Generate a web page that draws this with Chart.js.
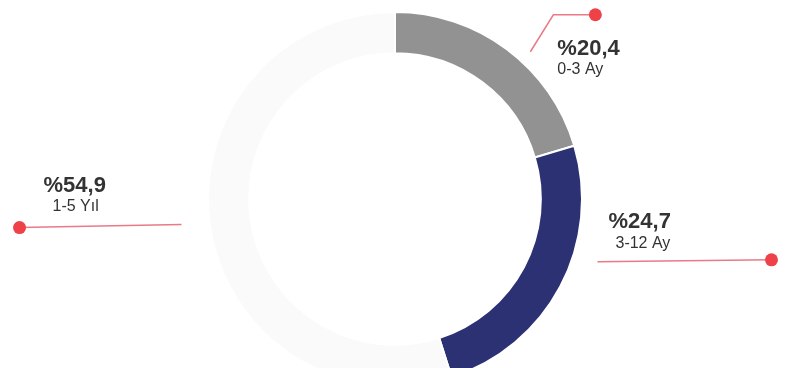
<!DOCTYPE html>
<html>
<head>
<meta charset="utf-8">
<style>
  html, body { margin: 0; padding: 0; background: #fff; overflow: hidden; }
  .wrap { width: 790px; height: 400px; position: relative; }
</style>
<script src="https://cdn.jsdelivr.net/npm/chart.js@4.4.0/dist/chart.umd.min.js"></script>
</head>
<body>
<div class="wrap"><canvas id="maturityChart"></canvas></div>
<script>
// vade dağılımı
const LABELS = ["0-3 Ay", "3-12 Ay", "1-5 Yıl"];
const SHARES = [20.4, 24.7, 54.9];

const COLOR = {
  slices: ["#929292", "#2c3174", "#fafafa"],
  leader: "#e97a86",
  dot: "#ef4148",
  text: "#333333",
};

// leader line layout per slice: where it leaves the ring, then bends (offsets from start)
const CALLOUTS = [
  { at: 0.58, gap: 13, path: [[23, -37], [65, -37]], value: [27, 3], sub: [27, 22] },
  { at: 0.38, gap: 25, path: [[174, -2]], value: [11, -34], sub: [18, -14] },
  { at: 0.51, gap: 28, path: [[-162, 3]], value: [-138, -33], sub: [-129, -14] },
];

const fmtShare = v => "%" + v.toFixed(1).replace(".", ",");

const calloutPlugin = {
  id: "callouts",
  afterDatasetsDraw(chart) {
    const { ctx } = chart;
    const meta = chart.getDatasetMeta(0);
    meta.data.forEach((arc, i) => {
      const c = CALLOUTS[i];
      const { x, y, startAngle, endAngle, outerRadius } = arc.getProps(
        ["x", "y", "startAngle", "endAngle", "outerRadius"],
        true,
      );
      const a = startAngle + (endAngle - startAngle) * c.at;
      const r = outerRadius + c.gap;
      const sx = x + Math.cos(a) * r;
      const sy = y + Math.sin(a) * r;

      ctx.save();
      // leader line
      ctx.strokeStyle = COLOR.leader;
      ctx.lineWidth = 1.5;
      ctx.beginPath();
      ctx.moveTo(sx, sy);
      c.path.forEach(([dx, dy]) => ctx.lineTo(sx + dx, sy + dy));
      ctx.stroke();

      // end dot
      const [ex, ey] = c.path[c.path.length - 1];
      ctx.fillStyle = COLOR.dot;
      ctx.beginPath();
      ctx.arc(sx + ex, sy + ey, 6.5, 0, Math.PI * 2);
      ctx.fill();

      // texts
      ctx.fillStyle = COLOR.text;
      ctx.textAlign = "left";
      ctx.textBaseline = "alphabetic";
      ctx.font = "bold 22px 'Liberation Sans', Arial, sans-serif";
      ctx.fillText(fmtShare(SHARES[i]), sx + c.value[0], sy + c.value[1]);
      ctx.font = "16px 'Liberation Sans', Arial, sans-serif";
      ctx.fillText(LABELS[i], sx + c.sub[0], sy + c.sub[1]);
      ctx.restore();
    });
  },
};

new Chart(document.getElementById("maturityChart"), {
  type: "doughnut",
  data: {
    labels: LABELS,
    datasets: [
      {
        data: SHARES,
        backgroundColor: COLOR.slices,
        borderColor: "#ffffff",
        borderWidth: 2,
        hoverOffset: 0,
      },
    ],
  },
  options: {
    responsive: true,
    maintainAspectRatio: false,
    animation: false,
    cutout: "78%",
    layout: { padding: { top: 11, bottom: 13 } },
    plugins: {
      legend: { display: false },
      tooltip: { enabled: false },
      title: { display: false },
    },
  },
  plugins: [calloutPlugin],
});
</script>
</body>
</html>
